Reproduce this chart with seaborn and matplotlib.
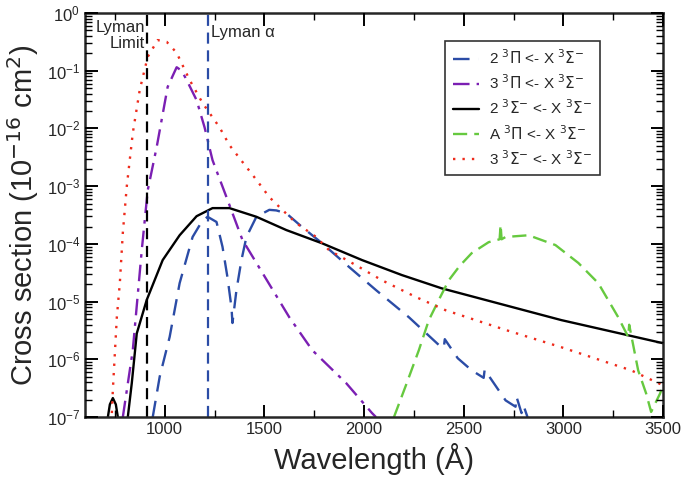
import matplotlib
matplotlib.use('Agg')

import matplotlib.pyplot as plt
import seaborn as sns
import numpy as np
import pandas as pd

# wavelengths (A) and log10 cross sections
wl_2pi = [940, 975, 1025, 1075, 1140, 1185, 1215, 1260, 1290, 1315, 1335, 1340, 1360, 1385, 1410, 1460, 1525,
          1560, 1610, 1690, 1790, 1925, 2060, 2225, 2375, 2400, 2405, 2470, 2540, 2600, 2605, 2710, 2760, 2765,
          2790, 2800, 2820]
lg_2pi = [-7.0, -6.3, -5.61, -4.68, -3.88, -3.62, -3.53, -3.62, -4.05, -4.58, -5.1, -5.37, -4.8, -4.28, -3.88,
          -3.53, -3.41, -3.42, -3.47, -3.71, -3.99, -4.4, -4.8, -5.27, -5.75, -5.8, -5.65, -5.98, -6.19, -6.32,
          -6.18, -6.71, -6.82, -6.65, -6.93, -6.8, -7.0]

wl_3pi = [790, 840, 885, 915, 960, 1015, 1060, 1085, 1110, 1160, 1200, 1240, 1310, 1390, 1490, 1625, 1740, 1910,
          2040, 2060]
lg_3pi = [-7.0, -5.84, -4.11, -3.07, -2.32, -1.28, -0.94, -1.0, -1.16, -1.51, -1.98, -2.55, -3.19, -3.93, -4.5,
          -5.27, -5.84, -6.41, -6.93, -7.0]

wl_2sig = [705, 715, 725, 740, 755, 765, 775, 815, 835, 860, 910, 990, 1075, 1160, 1240, 1325, 1460, 1610, 1790,
           1990, 2190, 2390, 2990, 3500]
lg_2sig = [-7.3, -7.0, -6.78, -6.67, -6.78, -7.0, -7.3, -7.0, -6.41, -5.55, -4.97, -4.28, -3.85, -3.52, -3.38,
           -3.38, -3.53, -3.76, -3.99, -4.28, -4.54, -4.77, -5.32, -5.72]

wl_api = [2150, 2210, 2275, 2325, 2375, 2425, 2480, 2540, 2625, 2680, 2685, 2690, 2710, 2825, 2960, 3075, 3175,
          3275, 3325, 3330, 3375, 3415, 3440, 3485, 3500]
lg_api = [-7.0, -6.45, -5.84, -5.32, -4.97, -4.63, -4.38, -4.16, -3.97, -3.92, -3.67, -3.92, -3.88, -3.85, -4.02,
          -4.33, -4.68, -5.27, -5.61, -5.4, -6.19, -6.59, -6.91, -6.59, -6.45]

wl_3sig = [735, 740, 760, 775, 790, 810, 840, 875, 915, 965, 1010, 1060, 1125, 1190, 1275, 1325, 1390, 1460,
           1525, 1590, 1660, 1760, 1825, 1960, 2090, 2260, 2410, 2710, 2990, 3340, 3500]
lg_3sig = [-6.93, -6.53, -5.27, -4.68, -3.81, -3.0, -2.08, -1.33, -0.76, -0.47, -0.5, -0.69, -1.16, -1.56, -1.98,
           -2.29, -2.58, -2.89, -3.19, -3.41, -3.64, -3.88, -4.11, -4.37, -4.63, -4.92, -5.15, -5.49, -5.79,
           -6.19, -6.45]

labels = [r'2 $^3\Pi$ <- X $^3\Sigma^{-}$', r'3 $^3\Pi$ <- X $^3\Sigma^{-}$', r'2 $^3\Sigma^{-}$ <- X $^3\Sigma^{-}$',
          r'A $^3\Pi$ <- X $^3\Sigma^{-}$', r'3 $^3\Sigma^{-}$ <- X $^3\Sigma^{-}$']
lyman_limit = 910
lyman_alpha = 1216

sns.set_style('ticks')
plt.rcParams['font.family'] = ['Liberation Sans', 'DejaVu Sans']

fig = plt.figure(figsize=(6.85, 4.8), dpi=100)
ax = fig.add_axes([0.124, 0.131, 0.844, 0.842])

series = [(wl_2pi, lg_2pi, '#2b4ca6', (0, (7, 4))),
          (wl_3pi, lg_3pi, '#7b1fb3', (0, (7, 3, 1.5, 3))),
          (wl_2sig, lg_2sig, 'black', '-'),
          (wl_api, lg_api, '#66c93f', (0, (6, 3))),
          (wl_3sig, lg_3sig, '#ee2b1c', (0, (1, 3)))]

for (wl, lg, col, ls), lab in zip(series, labels):
    df = pd.DataFrame({'wl': wl, 'sigma': 10 ** np.array(lg)})
    sns.lineplot(data=df, x='wl', y='sigma', ax=ax, color=col, linestyle=ls, lw=1.7,
                 label=lab, sort=False, estimator=None)

ax.axvline(lyman_limit, color='black', ls=(0, (5, 3)), lw=1.6)
ax.axvline(lyman_alpha, color='#2b4ca6', ls=(0, (5, 3)), lw=1.6)
ax.text(lyman_limit - 10, 10 ** -0.13, 'Lyman\nLimit', ha='right', va='top', fontsize=12, linespacing=1.05)
ax.text(lyman_alpha + 15, 10 ** -0.33, 'Lyman α', ha='left', va='center', fontsize=12)

ax.set_yscale('log')
ax.set_xlim(600, 3500)
ax.set_ylim(1e-7, 1)
ax.set_xticks([1000, 1500, 2000, 2500, 3000, 3500])

ax.set_xlabel('Wavelength (Å)', fontsize=21)
ax.set_ylabel(r'Cross section (10$^{-16}$ cm$^{2}$)', fontsize=21)

leg = ax.legend(loc='upper right', bbox_to_anchor=(0.891, 0.931), borderaxespad=0, fontsize=11,
                frameon=True, fancybox=False, edgecolor='black', handlelength=1.7, borderpad=0.5,
                labelspacing=0.42, handletextpad=0.7)
leg.get_frame().set_linewidth(1.2)

# ticks last, inward on all four sides, drawn above the curves
ax.set_axisbelow(False)
ax.tick_params(which='both', direction='in', top=True, right=True, color='black', labelsize=12)
ax.tick_params(which='major', length=9, width=1.4)
ax.xaxis.set_minor_locator(matplotlib.ticker.MultipleLocator(250))
ax.tick_params(which='minor', length=5, width=1.0)
ax.xaxis.set_zorder(3)
ax.yaxis.set_zorder(3)
for s in ax.spines.values():
    s.set_linewidth(1.8)

fig.savefig('out.png', dpi=100)
